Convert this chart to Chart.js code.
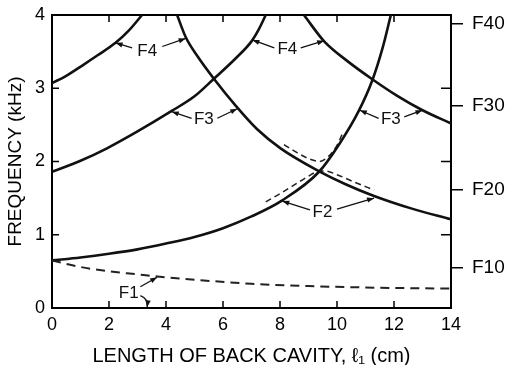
<!DOCTYPE html>
<html>
<head>
<meta charset="utf-8">
<script src="https://cdn.jsdelivr.net/npm/chart.js@4.4.0/dist/chart.umd.min.js"></script>
<style>
  body { margin: 0; background: #fff; }
  #wrap { width: 511px; height: 365px; }
</style>
</head>
<body>
<div id="wrap"><canvas id="FormantChart" width="511" height="365"></canvas></div>
<script>
// back cavity length (cm) vs resonance frequency (kHz)
var f1X = [0, 1, 2, 3, 3.7, 5.2, 7, 9, 11, 14];
var f1Y = [0.65, 0.56, 0.5, 0.46, 0.43, 0.38, 0.33, 0.3, 0.28, 0.265];

// rising curves (front cavity resonances)
var riseAX = [0, 1, 2, 3, 4, 5, 6, 7, 8.08, 9.37, 10.1, 10.75, 11.25, 11.6, 11.89];
var riseAY = [0.65, 0.69, 0.74, 0.8, 0.88, 0.97, 1.09, 1.25, 1.47, 1.86, 2.25, 2.68, 3.12, 3.55, 4.0];
var riseBX = [0, 1, 1.93, 3, 4.2, 5, 5.68, 6.45, 7, 7.25, 7.5];
var riseBY = [1.86, 2.01, 2.18, 2.41, 2.69, 2.89, 3.13, 3.41, 3.64, 3.8, 4.0];
var riseCX = [0, 0.5, 1.1, 1.6, 2.23, 2.7, 3.16];
var riseCY = [3.07, 3.17, 3.32, 3.45, 3.62, 3.79, 4.0];

// falling curves (back cavity resonances)
var fallDX = [4.39, 4.69, 5.1, 5.68, 6.45, 7.2, 8.02, 9.31, 10.3, 11.3, 12.6, 14];
var fallDY = [4.0, 3.7, 3.44, 3.13, 2.76, 2.44, 2.18, 1.88, 1.69, 1.53, 1.36, 1.21];
var fallEX = [8.84, 9.55, 10.4, 11.25, 12.1, 13, 14];
var fallEY = [4.0, 3.64, 3.36, 3.12, 2.9, 2.7, 2.52];

// coupled branches around the F2 crossing
var upperDashX = [8.14, 8.6, 9.0, 9.4, 9.7, 10.0, 10.2];
var upperDashY = [2.23, 2.12, 2.04, 2.0, 2.07, 2.22, 2.39];
var lowerDashX = [7.5, 8.0, 8.5, 9.0, 9.3, 9.6, 10.0, 10.6, 11.3];
var lowerDashY = [1.45, 1.56, 1.68, 1.8, 1.86, 1.87, 1.82, 1.72, 1.61];

// right-hand scale marks
var fMarks = [0.55, 1.61, 2.76, 3.88];
var fMarkLabels = ['F10', 'F20', 'F30', 'F40'];

var xTickVals = [2, 4, 6, 8, 10, 12];
var yTickVals = [1, 2, 3];

// curve labels: text position and arrow tails/heads in data units
var notes = [
  { text: 'F4', at: [3.34, 3.5], arrows: [[2.81, 3.55, 2.23, 3.62], [3.87, 3.57, 4.69, 3.68]] },
  { text: 'F4', at: [8.26, 3.53], arrows: [[7.8, 3.55, 7.03, 3.66], [8.73, 3.55, 9.55, 3.65]] },
  { text: 'F3', at: [5.33, 2.57], arrows: [[4.9, 2.59, 4.2, 2.68], [5.8, 2.59, 6.5, 2.72]] },
  { text: 'F3', at: [11.89, 2.57], arrows: [[11.46, 2.59, 10.8, 2.7], [12.36, 2.61, 13.0, 2.7]] },
  { text: 'F2', at: [9.49, 1.31], arrows: [[9.05, 1.34, 8.08, 1.46], [10.0, 1.35, 11.3, 1.5]] },
  { text: 'F1', at: [2.69, 0.2], arrows: [[3.1, 0.29, 3.69, 0.42]], curved: [3.1, 0.17, 3.38, 0.13, 3.34, 0.01] }
];

function pts(xs, ys) {
  return xs.map(function (x, i) { return { x: x, y: ys[i] }; });
}

function solid(xs, ys) {
  return { data: pts(xs, ys), borderColor: '#111', borderWidth: 2.6, pointRadius: 0,
           cubicInterpolationMode: 'monotone', fill: false };
}

function dashed(xs, ys, w, dash) {
  return { data: pts(xs, ys), borderColor: '#222', borderWidth: w, borderDash: dash, pointRadius: 0,
           cubicInterpolationMode: 'monotone', fill: false };
}

function arrowHead(ctx, x0, y0, x1, y1) {
  var ang = Math.atan2(y1 - y0, x1 - x0);
  ctx.beginPath();
  ctx.moveTo(x1, y1);
  ctx.lineTo(x1 - 7 * Math.cos(ang) + 2.6 * Math.sin(ang), y1 - 7 * Math.sin(ang) - 2.6 * Math.cos(ang));
  ctx.lineTo(x1 - 7 * Math.cos(ang) - 2.6 * Math.sin(ang), y1 - 7 * Math.sin(ang) + 2.6 * Math.cos(ang));
  ctx.closePath();
  ctx.fill();
}

// keep the frame fixed: labels may hang past the plot edges
function noEdgePadding(s) {
  s.paddingTop = 0;
  s.paddingBottom = 0;
  s.paddingLeft = 0;
  s.paddingRight = 0;
}

// inward tick marks on all four sides of the frame
var frameTicks = {
  id: 'frameTicks',
  afterDatasetsDraw: function (chart) {
    var ctx = chart.ctx, xs = chart.scales.x, ys = chart.scales.y, a = chart.chartArea;
    ctx.save();
    ctx.strokeStyle = '#000';
    ctx.lineWidth = 1.5;
    ctx.beginPath();
    xTickVals.forEach(function (v) {
      var px = xs.getPixelForValue(v);
      ctx.moveTo(px, a.bottom); ctx.lineTo(px, a.bottom - 7);
      ctx.moveTo(px, a.top); ctx.lineTo(px, a.top + 7);
    });
    yTickVals.forEach(function (v) {
      var py = ys.getPixelForValue(v);
      ctx.moveTo(a.left, py); ctx.lineTo(a.left + 7, py);
      ctx.moveTo(a.right, py); ctx.lineTo(a.right - 10, py);
    });
    ctx.stroke();
    ctx.restore();
  }
};

// formant labels with pointer arrows
var curveNotes = {
  id: 'curveNotes',
  afterDatasetsDraw: function (chart) {
    var ctx = chart.ctx, xs = chart.scales.x, ys = chart.scales.y;
    var px = function (v) { return xs.getPixelForValue(v); };
    var py = function (v) { return ys.getPixelForValue(v); };
    ctx.save();
    ctx.fillStyle = '#111';
    ctx.strokeStyle = '#111';
    ctx.lineWidth = 1.3;
    ctx.font = '17px "Liberation Sans", Arial, sans-serif';
    ctx.textAlign = 'center';
    ctx.textBaseline = 'middle';
    notes.forEach(function (n) {
      ctx.fillText(n.text, px(n.at[0]), py(n.at[1]));
      n.arrows.forEach(function (r) {
        var x0 = px(r[0]), y0 = py(r[1]), x1 = px(r[2]), y1 = py(r[3]);
        ctx.beginPath(); ctx.moveTo(x0, y0); ctx.lineTo(x1, y1); ctx.stroke();
        arrowHead(ctx, x0, y0, x1, y1);
      });
      if (n.curved) {
        var c = n.curved;
        ctx.beginPath();
        ctx.moveTo(px(c[0]), py(c[1]));
        ctx.quadraticCurveTo(px(c[2]), py(c[3]), px(c[4]), py(c[5]));
        ctx.stroke();
        arrowHead(ctx, px(c[2]), py(c[3]), px(c[4]), py(c[5]));
      }
    });
    ctx.restore();
  }
};

Chart.defaults.font.family = '"Liberation Sans", Arial, sans-serif';
Chart.defaults.color = '#000';

var tickFont = { size: 18 };

new Chart(document.getElementById('FormantChart').getContext('2d'), {
  type: 'line',
  data: {
    datasets: [
      dashed(f1X, f1Y, 2, [9, 6]),
      solid(riseAX, riseAY),
      solid(riseBX, riseBY),
      solid(riseCX, riseCY),
      solid(fallDX, fallDY),
      solid(fallEX, fallEY),
      dashed(upperDashX, upperDashY, 1.5, [6, 4]),
      dashed(lowerDashX, lowerDashY, 1.5, [6, 4])
    ]
  },
  options: {
    responsive: false,
    animation: false,
    layout: { padding: 0 },
    plugins: { legend: { display: false }, tooltip: { enabled: false } },
    scales: {
      x: {
        type: 'linear', position: 'bottom', min: 0, max: 14,
        afterFit: function (s) { s.height = 57; noEdgePadding(s); },
        ticks: { stepSize: 2, font: tickFont, padding: 6, maxRotation: 0 },
        grid: { display: false, drawTicks: false },
        border: { display: true, color: '#000', width: 2 },
        title: { display: true, text: 'LENGTH OF BACK CAVITY, \u2113\u2081 (cm)',
                 font: { size: 20, lineHeight: 0.9 }, padding: { top: 0, bottom: 0 } }
      },
      xTop: {
        type: 'linear', position: 'top', min: 0, max: 14,
        afterFit: function (s) { s.height = 15; noEdgePadding(s); },
        ticks: { display: false },
        grid: { display: false, drawTicks: false },
        border: { display: true, color: '#000', width: 2 }
      },
      y: {
        type: 'linear', position: 'left', min: 0, max: 4,
        afterFit: function (s) { s.width = 52; noEdgePadding(s); },
        ticks: { stepSize: 1, font: tickFont, padding: 7 },
        grid: { display: false, drawTicks: false },
        border: { display: true, color: '#000', width: 2 },
        title: { display: true, text: 'FREQUENCY (kHz)', font: { size: 19 }, padding: { top: 4, bottom: 0 } }
      },
      yR: {
        type: 'linear', position: 'right', min: 0, max: 4,
        afterFit: function (s) { s.width = 60; noEdgePadding(s); },
        afterBuildTicks: function (s) { s.ticks = fMarks.map(function (v) { return { value: v }; }); },
        ticks: { font: { size: 19 }, padding: 9, callback: function (v, i) { return fMarkLabels[i]; } },
        grid: { display: true, drawOnChartArea: false, drawTicks: true, tickLength: 12, color: '#000', lineWidth: 1.5 },
        border: { display: true, color: '#000', width: 2 }
      }
    }
  },
  plugins: [frameTicks, curveNotes]
});
</script>
</body>
</html>
